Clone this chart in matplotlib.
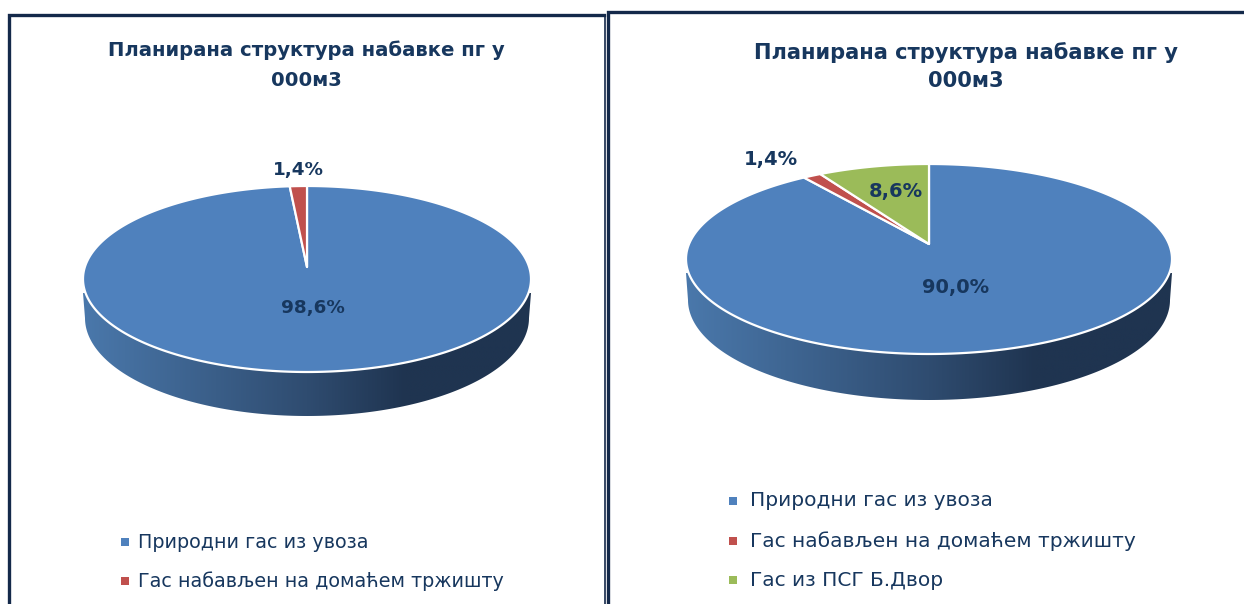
import numpy as np
import matplotlib
matplotlib.use("Agg")
import matplotlib.pyplot as plt
from matplotlib.colors import LinearSegmentedColormap
from matplotlib.patches import Polygon

# Podaci
naslov = "Планирана структура набавке пг у\n000м3"
kategorije_levo = ["Природни гас из увоза", "Гас набављен на домаћем тржишту"]
vrednosti_levo = [98.6, 1.4]
kategorije_desno = ["Природни гас из увоза", "Гас набављен на домаћем тржишту", "Гас из ПСГ Б.Двор"]
vrednosti_desno = [90.0, 1.4, 8.6]

boje = ["#4f81bd", "#c0504d", "#9bbb59"]
tamna = "#17375e"
okvir = "#14294a"
gradijent = LinearSegmentedColormap.from_list(
    "zid", [(0, "#4a78ab"), (0.5, "#2f4c70"), (0.72, "#1f3450"), (1, "#1f3450")])


# Tacka na disku -> slika, sa perspektivom (centar nije u sredini elipse)
def projekcija(ugao, r, centar, a, b, p):
    u = r * np.sin(ugao)
    v = r * np.cos(ugao)
    w = 1 + p * v
    return centar[0] + a * u / w, centar[1] - b * v / w


def nacrtaj_pitu(ax, vrednosti, cx, vrh, dno, rx, dubina, tekst_poz):
    # vrh i dno su gornja i donja ivica elipse, tip_y je tacka gde se sreću isečci
    cy, tip_y = (vrh + dno) / 2, tekst_poz["tip_y"]
    gore, dole = tip_y - vrh, dno - tip_y
    p = (dole - gore) / (dole + gore)
    b = gore * (1 + p)
    a = rx * np.sqrt(1 - p ** 2)

    # bocni zid
    t = np.linspace(-np.pi / 2, np.pi / 2, 200)
    ry2 = (dno - vrh) / 2 + 5
    cy2 = dno + dubina - ry2
    xz = cx + (rx - 2) * np.sin(t)
    yz = cy2 + ry2 * np.cos(t)
    zid = np.column_stack([
        np.r_[cx - rx, xz, cx + rx],
        np.r_[cy + 14, yz, cy + 14],
    ])
    slika = ax.imshow(np.linspace(0, 1, 256)[None, :], cmap=gradijent, aspect="auto",
                      extent=[cx - rx, cx + rx, dno + dubina, cy], zorder=1)
    poly = Polygon(zid, closed=True, facecolor="none", edgecolor="none", transform=ax.transData)
    ax.add_patch(poly)
    slika.set_clip_path(poly)

    # gornja povrsina
    pocetak = 0.0
    ukupno = sum(vrednosti)
    for i, v in enumerate(vrednosti):
        kraj = pocetak + v / ukupno * 2 * np.pi
        uglovi = np.linspace(pocetak, kraj, max(int(v * 4), 8))
        x, y = projekcija(uglovi, 1.0, (cx, tip_y), a, b, p)
        tacke = np.column_stack([np.r_[cx, x], np.r_[tip_y, y]])
        ax.add_patch(Polygon(tacke, closed=True, facecolor=boje[i], edgecolor="white",
                             linewidth=1.6, joinstyle="round", zorder=2))
        pocetak = kraj

    for v, (tx, ty) in zip(vrednosti, tekst_poz["labele"]):
        ax.text(tx, ty, f"{v:.1f}%".replace(".", ","), color=tamna, fontsize=tekst_poz["fs"],
                fontweight="bold", ha="center", va="center", zorder=3)


def nacrtaj_legendu(ax, kategorije, x_kvad, x_tekst, y_redovi, fs):
    for i, (naziv, y) in enumerate(zip(kategorije, y_redovi)):
        ax.scatter([x_kvad], [y], marker="s", s=30, color=boje[i], linewidths=0, zorder=3)
        ax.text(x_tekst, y, naziv, color=tamna, fontsize=fs, ha="left", va="center", zorder=3)


fig = plt.figure(figsize=(12.44, 6.04), dpi=100)
ax = fig.add_axes([0, 0, 1, 1])
ax.set_axis_off()
ax.set_xlim(0, 1244)
ax.set_ylim(604, 0)

# Okviri
ax.plot([8.5, 8.5, 604], [604, 14.5, 14.5], color=okvir, lw=2.4, solid_joinstyle="miter")
ax.plot([605, 605], [17, 604], color=okvir, lw=1.2)
ax.plot([608, 608, 1244], [604, 11.5, 11.5], color=okvir, lw=2.4, solid_joinstyle="miter")

# Leva pita
ax.text(306, 65.5, naslov, color=tamna, fontsize=14.1, fontweight="bold", ha="center",
        va="center", linespacing=1.75)
nacrtaj_pitu(ax, vrednosti_levo, 307, 186, 372, 224, 44,
             {"tip_y": 267, "fs": 13.2, "labele": [(313, 308), (298, 170)]})
nacrtaj_legendu(ax, kategorije_levo, 125, 138, [542, 581], 13.8)

# Desna pita
ax.text(966, 66.5, naslov, color=tamna, fontsize=15.1, fontweight="bold", ha="center",
        va="center", linespacing=1.45)
nacrtaj_pitu(ax, vrednosti_desno, 929, 164, 354, 243, 46,
             {"tip_y": 244, "fs": 14, "labele": [(956, 287), (771, 160), (896, 191)]})
nacrtaj_legendu(ax, kategorije_desno, 733, 750, [501, 541, 580], 14.5)

ax.set_xlim(0, 1244)
ax.set_ylim(604, 0)
fig.savefig("out.png", dpi=100)
